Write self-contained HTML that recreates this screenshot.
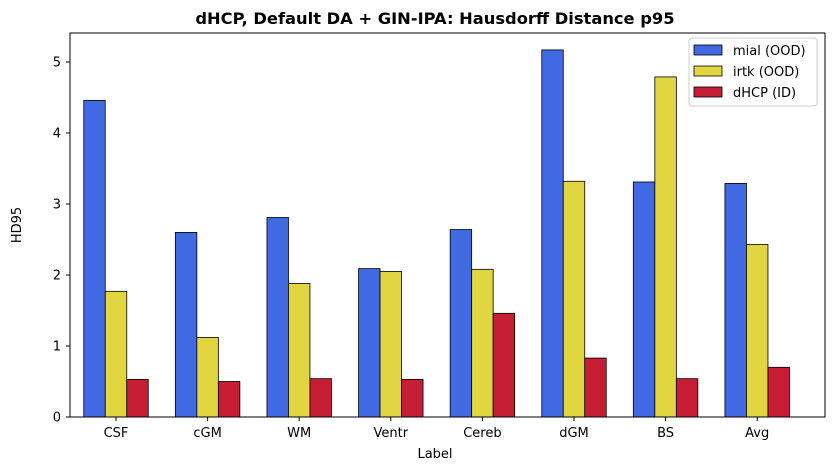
<!DOCTYPE html>
<html><head><meta charset="utf-8"><style>
body{margin:0;background:#fff;font-family:"Liberation Sans","DejaVu Sans",sans-serif;}
</style></head><body>
<svg id="c" width="833" height="470" xmlns="http://www.w3.org/2000/svg" font-family="DejaVu Sans, Liberation Sans, sans-serif">
<text x="435" y="24" text-anchor="middle" font-size="16.3" font-weight="bold">dHCP, Default DA + GIN-IPA: Hausdorff Distance p95</text>
<g id="bars"></g>
<g id="axes"></g>
<rect x="70" y="33" width="755" height="384" fill="none" stroke="#000" stroke-width="1"/>
<text x="435" y="458" text-anchor="middle" font-size="13">Label</text>
<text x="21" y="225" text-anchor="middle" font-size="13" transform="rotate(-90 21 225)">HD95</text>
<g>
<rect x="689" y="38" width="128" height="68" rx="3" fill="#fff" fill-opacity="0.8" stroke="#ccc"/>
<g><rect x="694" y="45" width="28" height="10" fill="#4169e1" stroke="#000" stroke-width="0.8"/><text x="733" y="55" font-size="13">mial (OOD)</text></g>
<g><rect x="694" y="66" width="28" height="10" fill="#e1d540" stroke="#000" stroke-width="0.8"/><text x="733" y="76" font-size="13">irtk (OOD)</text></g>
<g><rect x="694" y="87" width="28" height="10" fill="#c61f35" stroke="#000" stroke-width="0.8"/><text x="733" y="97" font-size="13">dHCP (ID)</text></g>
</g>
</svg>
<script>
const categories=["CSF","cGM","WM","Ventr","Cereb","dGM","BS","Avg"];
const mial=[4.46,2.60,2.81,2.09,2.64,5.17,3.31,3.29];
const irtk=[1.77,1.12,1.88,2.05,2.08,3.32,4.79,2.43];
const dhcp=[0.53,0.50,0.54,0.53,1.46,0.83,0.54,0.70];
const yTicks=[0,1,2,3,4,5];
const NS="http://www.w3.org/2000/svg";
const y=v=>417-v*71;
const xc=i=>116+91.6*i;
const bw=21.5;
const bars=document.getElementById('bars'),axes=document.getElementById('axes');
const series=[[mial,"#4169e1","mial"],[irtk,"#e1d540","irtk"],[dhcp,"#c61f35","dhcp"]];
series.forEach((s,k)=>{s[0].forEach((v,i)=>{
 const r=document.createElementNS(NS,'rect');
 r.setAttribute('x',xc(i)+(k-1)*bw-bw/2);r.setAttribute('y',y(v));
 r.setAttribute('width',bw);r.setAttribute('height',417-y(v));
 r.setAttribute('fill',s[1]);r.setAttribute('stroke','#000');r.setAttribute('stroke-width','0.8');
 
 
 bars.appendChild(r);});});
categories.forEach((c,i)=>{
 const l=document.createElementNS(NS,'line');
 l.setAttribute('x1',xc(i));l.setAttribute('x2',xc(i));l.setAttribute('y1',417);l.setAttribute('y2',421);l.setAttribute('stroke','#000');
 
 
 axes.appendChild(l);
 const t=document.createElementNS(NS,'text');
 t.setAttribute('x',xc(i));t.setAttribute('y',437);t.setAttribute('text-anchor','middle');t.setAttribute('font-size','13');t.textContent=c;
 
 
 axes.appendChild(t);});
yTicks.forEach(v=>{
 const l=document.createElementNS(NS,'line');
 l.setAttribute('x1',66);l.setAttribute('x2',70);l.setAttribute('y1',y(v));l.setAttribute('y2',y(v));l.setAttribute('stroke','#000');
 
 
 axes.appendChild(l);
 const t=document.createElementNS(NS,'text');
 t.setAttribute('x',61);t.setAttribute('y',y(v)+4.5);t.setAttribute('text-anchor','end');t.setAttribute('font-size','13');t.textContent=v;
 
 
 axes.appendChild(t);});
</script>
</body></html>
